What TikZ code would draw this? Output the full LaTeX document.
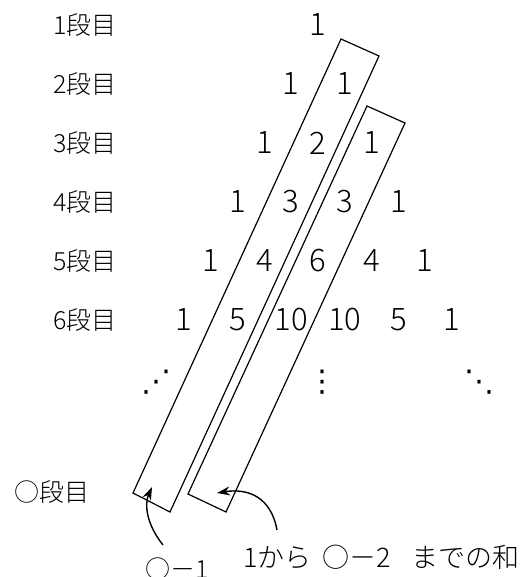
\documentclass[tikz,border=0pt]{standalone}
\usepackage{fontspec}
\setmainfont{Noto Sans CJK JP Light}
\newfontfamily\dejavu{DejaVu Sans}
\usetikzlibrary{arrows.meta}
\tikzset{
  num/.style={font=\fontsize{31}{31}\selectfont, inner sep=0pt, anchor=center},
  lbl/.style={font=\fontsize{25}{25}\selectfont, inner sep=0pt, anchor=west},
  dotsym/.style={font=\dejavu\fontsize{30}{30}\selectfont, inner sep=0pt},
  band/.style={draw=black, line width=1.2pt, line join=miter},
  pointer/.style={draw=black, line width=1.4pt, -{Stealth[length=13pt,width=9pt]}},
}
\begin{document}
\begin{tikzpicture}[x=1pt,y=-1pt]
\useasboundingbox (0,0) rectangle (529,577);
% row labels
\foreach \r in {1,...,6} {
  \node[lbl] (l\r) at (53,{25+59*(\r-1)}) {\r 段目};
}
\node[lbl] (lo) at (14,492) {○段目};
% numbers
\def\sp{53.6}
\node[num] (n1-1) at (318,25) {1};
\node[num] (n2-1) at ({318-0.5*\sp},84) {1};
\node[num] (n2-2) at ({318+0.5*\sp},84) {1};
\node[num] (n3-1) at ({318-1*\sp},143) {1};
\node[num] (n3-2) at ({318},143) {2};
\node[num] (n3-3) at ({318+1*\sp},143) {1};
\node[num] (n4-1) at ({318-1.5*\sp},202) {1};
\node[num] (n4-2) at ({318-0.5*\sp},202) {3};
\node[num] (n4-3) at ({318+0.5*\sp},202) {3};
\node[num] (n4-4) at ({318+1.5*\sp},202) {1};
\node[num] (n5-1) at ({318-2*\sp},261) {1};
\node[num] (n5-2) at ({318-1*\sp},261) {4};
\node[num] (n5-3) at ({318},261) {6};
\node[num] (n5-4) at ({318+1*\sp},261) {4};
\node[num] (n5-5) at ({318+2*\sp},261) {1};
\node[num] (n6-1) at ({318-2.5*\sp},320) {1};
\node[num] (n6-2) at ({318-1.5*\sp},320) {5};
\node[num] (n6-3) at ({318-0.5*\sp},320) {10};
\node[num] (n6-4) at ({318+0.5*\sp},320) {10};
\node[num] (n6-5) at ({318+1.5*\sp},320) {5};
\node[num] (n6-6) at ({318+2.5*\sp},320) {1};
% dots
\node[dotsym] (d1) at (156,382) {⋰};
\node[dotsym] (d2) at (322,382) {⋮};
\node[dotsym] (d3) at (479,382) {⋱};
% bands
\coordinate (a1) at (341,39);
\coordinate (a2) at (379,56);
\coordinate (a3) at (170,512);
\coordinate (a4) at (133,493);
\draw[band] (a1) -- (a2) -- (a3) -- (a4) -- cycle;
\coordinate (b1) at (367,106);
\coordinate (b2) at (405,123);
\coordinate (b3) at (226,512);
\coordinate (b4) at (188,494);
\draw[band] (b1) -- (b2) -- (b3) -- (b4) -- cycle;
% bottom texts
\node[lbl, anchor=center] (t1) at (177,569) {○－1};
\node[lbl, font=\fontsize{27}{27}\selectfont] (t2) at (243,557) {1から\hspace{11pt}○－2\hspace{20pt}までの和};
% arrows
\coordinate (s1) at (163,545);
\coordinate (e1) at (152,487);
\coordinate (s2) at (277,530);
\coordinate (e2) at (217,493);
\draw[pointer] (s1) .. controls (147,525) and (144,505) .. (e1);
\draw[pointer] (s2) .. controls (271,497) and (248,488) .. (e2);
\end{tikzpicture}
\end{document}
